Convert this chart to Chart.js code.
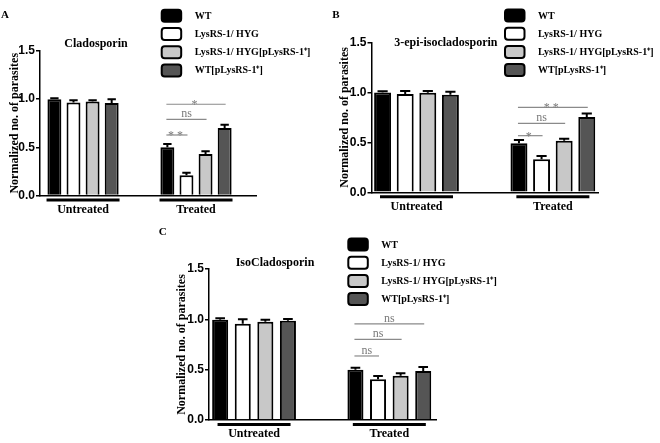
<!DOCTYPE html>
<html>
<head>
<meta charset="utf-8">
<title>Normalized no. of parasites</title>
<script src="https://cdn.jsdelivr.net/npm/chart.js@4.4.0/dist/chart.umd.min.js"></script>
<style>
  html, body { margin: 0; padding: 0; background: #fff; }
  #wrap { position: relative; width: 660px; height: 443px; overflow: hidden; }
  #wrap canvas { position: absolute; left: 0; top: 0; }
</style>
</head>
<body>
<div id="wrap">
  <canvas id="chartA" width="660" height="443"></canvas>
  <canvas id="chartB" width="660" height="443"></canvas>
  <canvas id="chartC" width="660" height="443"></canvas>
</div>
<script>
// categories, series, ticks
const groups = ['Untreated', 'Treated'];
const strains = ['WT', 'LysRS-1/ HYG', 'LysRS-1/ HYG[pLysRS-1\u207A]', 'WT[pLysRS-1\u207A]'];
const yTicks = [0, 0.5, 1.0, 1.5];
const yAxisTitle = 'Normalized no. of parasites';

// Cladosporin (rows = strains, columns = groups)
const cladoMean = [[1.00, 0.50], [0.965, 0.21], [0.975, 0.43], [0.96, 0.70]];
const cladoErr  = [[0.01, 0.035], [0.025, 0.025], [0.015, 0.03], [0.04, 0.035]];
const cladoSig  = [['**', 1, 0.628], ['ns', 2, 0.791], ['*', 3, 0.947]];

// 3-epi-isocladosporin
const epiMean = [[1.00, 0.49], [0.984, 0.33], [0.997, 0.515], [0.977, 0.755]];
const epiErr  = [[0.012, 0.034], [0.03, 0.033], [0.017, 0.02], [0.03, 0.033]];
const epiSig  = [['*', 1, 0.567], ['ns', 2, 0.69], ['**', 3, 0.851]];

// IsoCladosporin
const isoMean = [[0.995, 0.50], [0.955, 0.404], [0.977, 0.44], [0.986, 0.487]];
const isoErr  = [[0.015, 0.02], [0.045, 0.033], [0.02, 0.024], [0.017, 0.04]];
const isoSig  = [['ns', 1, 0.636], ['ns', 2, 0.80], ['ns', 3, 0.954]];

const fills = ['#000000', '#ffffff', '#c8c8c8', '#555555'];
const serif = "'Liberation Serif', 'Times New Roman', serif";
const sans = "'Liberation Sans', Arial, sans-serif";

// layout of the three panels, page pixels
const panels = [
  { id: 'chartA', letter: 'A', title: 'Cladosporin', mean: cladoMean, err: cladoErr, sig: cladoSig,
    area: [40, 51, 256, 195.5], xRange: [-0.381, 1.531], cat: 0.676, bar: 0.73,
    letterAt: [5, 15], titleAt: [96, 43.5], legendAt: [161.7, 15.8], yTitleX: 15 },
  { id: 'chartB', letter: 'B', title: '3-epi-isocladosporin', mean: epiMean, err: epiErr, sig: epiSig,
    area: [371.5, 42.5, 598, 192.3], xRange: [-0.33, 1.331], cat: 0.663, bar: 0.75,
    letterAt: [336, 15], titleAt: [445.8, 42.7], legendAt: [505, 15.5], yTitleX: 345 },
  { id: 'chartC', letter: 'C', title: 'IsoCladosporin', mean: isoMean, err: isoErr, sig: isoSig,
    area: [209, 269, 436, 420], xRange: [-0.333, 1.345], cat: 0.668, bar: 0.71,
    letterAt: [162.7, 231.7], titleAt: [275, 263.3], legendAt: [348.3, 244.5], yTitleX: 181.7 }
];

const Y_W = 40, X_H = 20, W = 660, H = 443;

function figurePlugin(p) {
  return {
    id: 'figure' + p.letter,
    afterDatasetsDraw(chart) {
      const ctx = chart.ctx;
      const xs = chart.scales.x, ys = chart.scales.y;
      ctx.save();

      // error bars (upper only)
      ctx.strokeStyle = '#000';
      ctx.lineWidth = 2;
      chart.data.datasets.forEach((ds, d) => {
        chart.getDatasetMeta(d).data.forEach((bar, i) => {
          const top = ys.getPixelForValue(p.mean[d][i] + p.err[d][i]);
          const half = bar.width * 0.3;
          ctx.beginPath();
          ctx.moveTo(bar.x, bar.y);
          ctx.lineTo(bar.x, top);
          ctx.moveTo(bar.x - half, top);
          ctx.lineTo(bar.x + half, top);
          ctx.stroke();
        });
      });

      // significance lines, treated group
      const wt = chart.getDatasetMeta(0).data[1];
      ctx.strokeStyle = '#8a8a8a';
      ctx.fillStyle = '#7a7a7a';
      ctx.lineWidth = 1.2;
      ctx.textAlign = 'center';
      ctx.textBaseline = 'alphabetic';
      p.sig.forEach(([txt, to, level]) => {
        const other = chart.getDatasetMeta(to).data[1];
        const yy = ys.getPixelForValue(level);
        const x1 = wt.x - 1, x2 = other.x + 1;
        ctx.beginPath();
        ctx.moveTo(x1, yy);
        ctx.lineTo(x2, yy);
        ctx.stroke();
        const star = txt.indexOf('*') >= 0;
        ctx.font = '12px ' + serif;
        ctx.letterSpacing = star ? '3px' : '0px';
        ctx.fillText(txt, (x1 + x2) / 2, star ? yy + 4 : yy - 2);
      });
      ctx.letterSpacing = '0px';

      // group underlines below the x axis
      ctx.strokeStyle = '#000';
      ctx.lineWidth = 3;
      groups.forEach((g, i) => {
        const cx = xs.getPixelForValue(i);
        ctx.beginPath();
        ctx.moveTo(cx - 36.5, ys.bottom + 4.5);
        ctx.lineTo(cx + 36.5, ys.bottom + 4.5);
        ctx.stroke();
      });

      // panel letter and title
      ctx.fillStyle = '#000';
      ctx.textBaseline = 'middle';
      ctx.font = 'bold 11px ' + serif;
      ctx.fillText(p.letter, p.letterAt[0], p.letterAt[1]);
      ctx.font = 'bold 12px ' + serif;
      ctx.fillText(p.title, p.titleAt[0], p.titleAt[1]);

      // legend
      ctx.textAlign = 'left';
      ctx.font = 'bold 10px ' + serif;
      strains.forEach((s, k) => {
        const bx = p.legendAt[0], by = p.legendAt[1] + k * 18.2;
        ctx.beginPath();
        ctx.roundRect(bx, by - 6, 19.5, 12, 3);
        ctx.fillStyle = fills[k];
        ctx.fill();
        ctx.lineWidth = 2;
        ctx.strokeStyle = '#000';
        ctx.stroke();
        ctx.fillStyle = '#000';
        ctx.fillText(s, bx + 33, by + 0.5);
      });
      ctx.restore();
    }
  };
}

panels.forEach(p => {
  const [l, t, r, b] = p.area;
  new Chart(document.getElementById(p.id), {
    type: 'bar',
    data: {
      datasets: strains.map((s, d) => ({
        label: s,
        data: p.mean[d].map((v, i) => ({ x: i, y: v })),
        backgroundColor: fills[d],
        borderColor: '#000',
        borderWidth: 2,
        categoryPercentage: p.cat,
        barPercentage: p.bar
      }))
    },
    options: {
      responsive: false,
      animation: false,
      devicePixelRatio: 1,
      layout: { padding: { left: l - Y_W, top: t, right: W - r, bottom: H - b - X_H } },
      plugins: { legend: { display: false }, tooltip: { enabled: false } },
      scales: {
        x: {
          type: 'linear',
          offset: false,
          min: p.xRange[0],
          max: p.xRange[1],
          afterBuildTicks: s => { s.ticks = groups.map((g, i) => ({ value: i })); },
          afterFit: s => { s.height = X_H; },
          grid: { display: true, drawOnChartArea: false, drawTicks: false, offset: false },
          border: { display: true, color: '#000', width: 1.5 },
          ticks: {
            padding: 7,
            maxRotation: 0,
            autoSkip: false,
            color: '#000',
            font: { family: serif, size: 12, weight: 'bold' },
            callback: v => groups[v]
          }
        },
        y: {
          min: 0,
          max: 1.5,
          afterBuildTicks: s => { s.ticks = yTicks.map(v => ({ value: v })); },
          afterFit: s => { s.width = Y_W; },
          grid: { drawOnChartArea: false, drawTicks: true, tickLength: 4, color: '#000', lineWidth: 1.5 },
          border: { display: true, color: '#000', width: 1.5 },
          ticks: {
            padding: 1,
            color: '#000',
            font: { family: sans, size: 12, weight: 'bold' },
            callback: v => v.toFixed(1)
          },
          title: {
            display: true,
            text: yAxisTitle,
            color: '#000',
            font: { family: serif, size: 12, weight: 'bold' },
            padding: { top: p.yTitleX - (l - Y_W) - 7.2, bottom: 0 }
          }
        }
      }
    },
    plugins: [figurePlugin(p)]
  });
});
</script>
</body>
</html>
